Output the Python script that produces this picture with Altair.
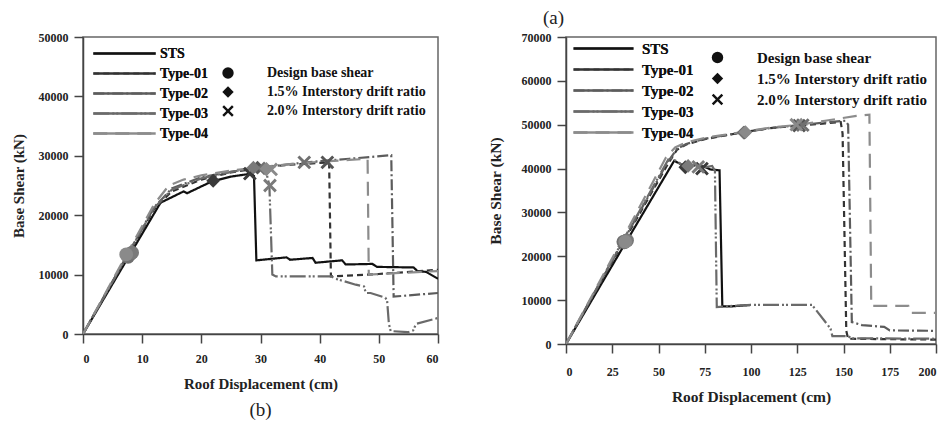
import altair as alt
import pandas as pd

SERIES = ["STS", "Type-01", "Type-02", "Type-03", "Type-04"]
LINE_COLORS = ["#111111", "#333333", "#5c5c5c", "#6a6a6a", "#8c8c8c"]
MARK_COLORS = ["#3a3a3a", "#555555", "#707070", "#7a7a7a", "#8a8a8a"]
DASHES = [[1, 0], [6, 4], [11, 3, 2, 3], [16, 3, 2, 2, 2, 3], [14, 8]]
KINDS = ["Design base shear", "1.5% Interstory drift ratio", "2.0% Interstory drift ratio"]
XPATH = "M-1,-0.7L-0.7,-1L0,-0.3L0.7,-1L1,-0.7L0.3,0L1,0.7L0.7,1L0,0.3L-0.7,1L-1,0.7L-0.3,0Z"

# ---------- panel (b): roof displacement 0-60 cm ----------
B_STS_X = [0, 13.1, 17.0, 17.6, 21.8, 25.0, 28.5, 28.9, 29.3, 34.4, 35.0, 38.8, 39.3, 43.8, 44.4, 48.9, 49.7, 55.9, 56.5, 58.0, 60.0]
B_STS_Y = [0, 22100, 24000, 23700, 25700, 26500, 27000, 26600, 12400, 12900, 12500, 12800, 12000, 12400, 11700, 11800, 11300, 11200, 10600, 10450, 9300]
B_T01_X = [0, 12.0, 15.0, 20.0, 25.0, 30.0, 35.0, 41.6, 41.9, 50.0, 60.0]
B_T01_Y = [0, 21000, 24000, 26000, 27200, 28000, 28500, 28900, 9700, 10100, 10800]
B_T02_X = [0, 12.0, 15.0, 20.0, 25.0, 30.0, 35.0, 40.0, 45.0, 52.1, 52.5, 60.0]
B_T02_Y = [0, 21300, 24500, 26400, 27300, 28000, 28600, 29100, 29500, 30100, 6300, 6900]
B_T03_X = [0, 12.0, 15.0, 20.0, 25.0, 29.0, 30.8, 31.5, 32.0, 32.6, 42.0, 42.7, 46.1, 47.5, 47.8, 48.6, 51.1, 51.4, 51.7, 52.0, 54.9, 55.8, 56.3, 60.0]
B_T03_Y = [0, 21200, 24300, 26200, 27300, 28000, 28000, 25000, 10000, 9700, 9700, 9300, 8300, 8000, 6900, 6900, 6100, 5600, 1700, 500, 300, 600, 1700, 2700]
B_T04_X = [0, 12.0, 14.5, 17.0, 20.0, 25.0, 30.0, 35.0, 40.0, 45.0, 48.1, 48.3, 54.0, 60.0]
B_T04_Y = [0, 21800, 25000, 26000, 26700, 27500, 28100, 28600, 29000, 29300, 29500, 10000, 10300, 10600]

B_MK_SERIES = ["STS", "STS", "STS", "Type-01", "Type-01", "Type-01", "Type-02", "Type-02", "Type-02",
               "Type-03", "Type-03", "Type-03", "Type-04", "Type-04", "Type-04"]
B_MK_KIND = [0, 1, 2] * 5
B_MK_X = [7.8, 22.0, 28.2, 8.0, 29.5, 41.3, 7.6, 30.6, 37.4, 8.3, 28.8, 31.6, 7.3, 31.0, 31.8]
B_MK_Y = [13300, 25800, 27000, 13500, 28000, 28900, 13000, 27900, 28900, 13700, 28000, 25000, 13400, 27800, 27700]

# ---------- panel (a): roof displacement 0-200 cm ----------
A_STS_X = [0, 30, 58.5, 62, 66, 70, 75, 78, 83, 84.5, 90, 100]
A_STS_Y = [0, 21500, 41800, 41000, 40300, 40800, 40400, 39800, 39600, 8600, 8600, 8900]
A_T01_X = [0, 30, 55, 60, 65, 75, 96, 110, 126, 140, 148.5, 149.5, 151.5, 152.5, 175, 200]
A_T01_Y = [0, 22500, 41000, 44300, 45500, 46700, 48300, 49200, 49800, 50300, 50600, 48000, 3000, 1200, 1100, 1000]
A_T02_X = [0, 30, 55, 60, 65, 75, 96, 110, 126, 140, 151, 152.5, 154.5, 160, 172, 175, 200]
A_T02_Y = [0, 22800, 41500, 44500, 45600, 46800, 48300, 49200, 49900, 50500, 50900, 50000, 5000, 4300, 3900, 3100, 3000]
A_T03_X = [0, 30, 56, 60, 64, 70, 74, 79, 80.5, 81.5, 90, 100, 133, 143, 144, 152, 155, 200]
A_T03_Y = [0, 23000, 42600, 41600, 40500, 40900, 40200, 40600, 39500, 8400, 8700, 8900, 8900, 3500, 1800, 1800, 1300, 1200]
A_T04_X = [0, 30, 54, 59, 65, 75, 96, 110, 126, 140, 157, 164, 165, 185, 186, 200]
A_T04_Y = [0, 23500, 42500, 44800, 46000, 47000, 48400, 49300, 50000, 50900, 52000, 52300, 8700, 8700, 7100, 7100]

A_MK_SERIES = B_MK_SERIES
A_MK_KIND = [0, 1, 2] * 5
A_MK_X = [31.5, 64.5, 73.5, 32.5, 96.5, 126.0, 31.0, 96.0, 128.0, 33.0, 66.0, 71.5, 32.0, 97.0, 124.5]
A_MK_Y = [23200, 40300, 40000, 23500, 48200, 49800, 23300, 48200, 49900, 23600, 40600, 40400, 23300, 48300, 50000]


def lines_frame(xs_list, ys_list):
    rows = []
    for name, xs, ys in zip(SERIES, xs_list, ys_list):
        for i, (x, y) in enumerate(zip(xs, ys)):
            rows.append({"series": name, "i": i, "x": x, "y": y})
    return pd.DataFrame(rows)


def marks_frame(ser, kind, xs, ys):
    return pd.DataFrame({"who": ser, "kind": [KINDS[k] for k in kind], "x": xs, "y": ys})


FONT = "Liberation Serif"


def panel(ldf, mdf, xmax, xstep, xlab, ymax, w, h, lab_fs, tit_fs, leg_fs,
          lx, ly, lpath, loff, mx, my, moff, rowpad, xlp, xtp, ytp, title):
    xvals = [k * xstep for k in range(int(round(xmax / xstep)) + 1)]
    yvals = list(range(0, ymax + 1, 5000))
    xaxis = alt.Axis(values=xvals, labelExpr=f"datum.value % {xlab} === 0 ? datum.label : ''",
                     tickSize={"condition": {"test": f"datum.value % {xlab} === 0", "value": 9}, "value": 5},
                     labelPadding=xlp, labelFontSize=lab_fs, titleFontSize=tit_fs, titlePadding=xtp,
                     format="d", grid=False)
    yaxis = alt.Axis(values=yvals, labelExpr="datum.value % 10000 === 0 ? datum.label : ''",
                     tickSize={"condition": {"test": "datum.value % 10000 === 0", "value": 9}, "value": 4},
                     labelPadding=6, labelFontSize=lab_fs, titleFontSize=tit_fs, titlePadding=ytp,
                     format="d", grid=False)
    leg_lines = alt.Legend(title=None, orient="none", legendX=lx, legendY=ly, symbolType=lpath,
                           symbolSize=144, symbolStrokeWidth=2.5, labelFont=FONT, labelFontWeight="bold",
                           labelFontSize=leg_fs, labelColor="#111", rowPadding=rowpad, labelOffset=loff,
                           padding=0, labelLimit=300)
    leg_marks = alt.Legend(title=None, orient="none", legendX=mx, legendY=my, symbolSize=130,
                           symbolFillColor="#111", symbolStrokeColor="#111", symbolStrokeWidth=0,
                           labelFont=FONT, labelFontWeight="bold", labelFontSize=leg_fs, labelColor="#111",
                           rowPadding=rowpad, labelOffset=moff, padding=0, labelLimit=300)
    lines = alt.Chart(ldf).mark_line(strokeWidth=2.2, clip=True).encode(
        x=alt.X("x:Q", scale=alt.Scale(domain=[0, xmax], nice=False, zero=False), axis=xaxis,
                title="Roof Displacement (cm)"),
        y=alt.Y("y:Q", scale=alt.Scale(domain=[0, ymax], nice=False), axis=yaxis, title="Base Shear (kN)"),
        color=alt.Color("series:N", scale=alt.Scale(domain=SERIES, range=LINE_COLORS), legend=leg_lines),
        strokeDash=alt.StrokeDash("series:N", scale=alt.Scale(domain=SERIES, range=DASHES), legend=leg_lines),
        order=alt.Order("i:Q"),
    )
    pts = alt.Chart(mdf).mark_point(filled=True, size=190, opacity=1).encode(
        x="x:Q",
        y="y:Q",
        color=alt.Color("who:N", scale=alt.Scale(domain=SERIES, range=MARK_COLORS), legend=None),
        shape=alt.Shape("kind:N", scale=alt.Scale(domain=KINDS, range=["circle", "diamond", XPATH]),
                        legend=leg_marks),
    )
    return alt.layer(lines, pts).resolve_scale(color="independent").properties(
        width=w, height=h, title=title)


left = panel(
    lines_frame([B_STS_X, B_T01_X, B_T02_X, B_T03_X, B_T04_X], [B_STS_Y, B_T01_Y, B_T02_Y, B_T03_Y, B_T04_Y]),
    marks_frame(B_MK_SERIES, B_MK_KIND, B_MK_X, B_MK_Y),
    60, 5, 10, 50000, 355, 297, 12, 15, 14,
    34, 9, "M-5.2,0L5.2,0", 28, 138, 29, 32, 5, 10, 12, 12,
    alt.TitleParams("(b)", orient="bottom", anchor="middle", font=FONT, fontSize=19,
                    fontWeight="normal", color="#222", offset=10),
)
right = panel(
    lines_frame([A_STS_X, A_T01_X, A_T02_X, A_T03_X, A_T04_X], [A_STS_Y, A_T01_Y, A_T02_Y, A_T03_Y, A_T04_Y]),
    marks_frame(A_MK_SERIES, A_MK_KIND, A_MK_X, A_MK_Y),
    200, 12.5, 25, 70000, 370, 307, 12, 15.5, 15,
    30, 4, "M-5,0L5,0", 31, 144, 13, 32, 5, 13, 12, 18,
    alt.TitleParams("(a)", anchor="start", frame="group", dx=-23, font=FONT, fontSize=19,
                    fontWeight="normal", color="#222", offset=3),
)

chart = alt.hconcat(left, right, spacing=128, bounds="flush").resolve_scale(
    color="independent", strokeDash="independent", shape="independent"
).resolve_legend(
    color="independent", strokeDash="independent", shape="independent"
).properties(
    padding={"left": 2, "top": 0, "right": 0, "bottom": 0},
    background="white",
).configure_view(
    stroke="#666", strokeWidth=1.5
).configure_axis(
    domainColor="#444", tickColor="#444", domainWidth=1.5, tickWidth=1.5,
    labelFont=FONT, labelFontWeight="bold", labelColor="#222",
    titleFont=FONT, titleFontWeight="bold", titleColor="#222",
)

chart.save("out.html", embed_options={"renderer": "svg", "actions": False})
